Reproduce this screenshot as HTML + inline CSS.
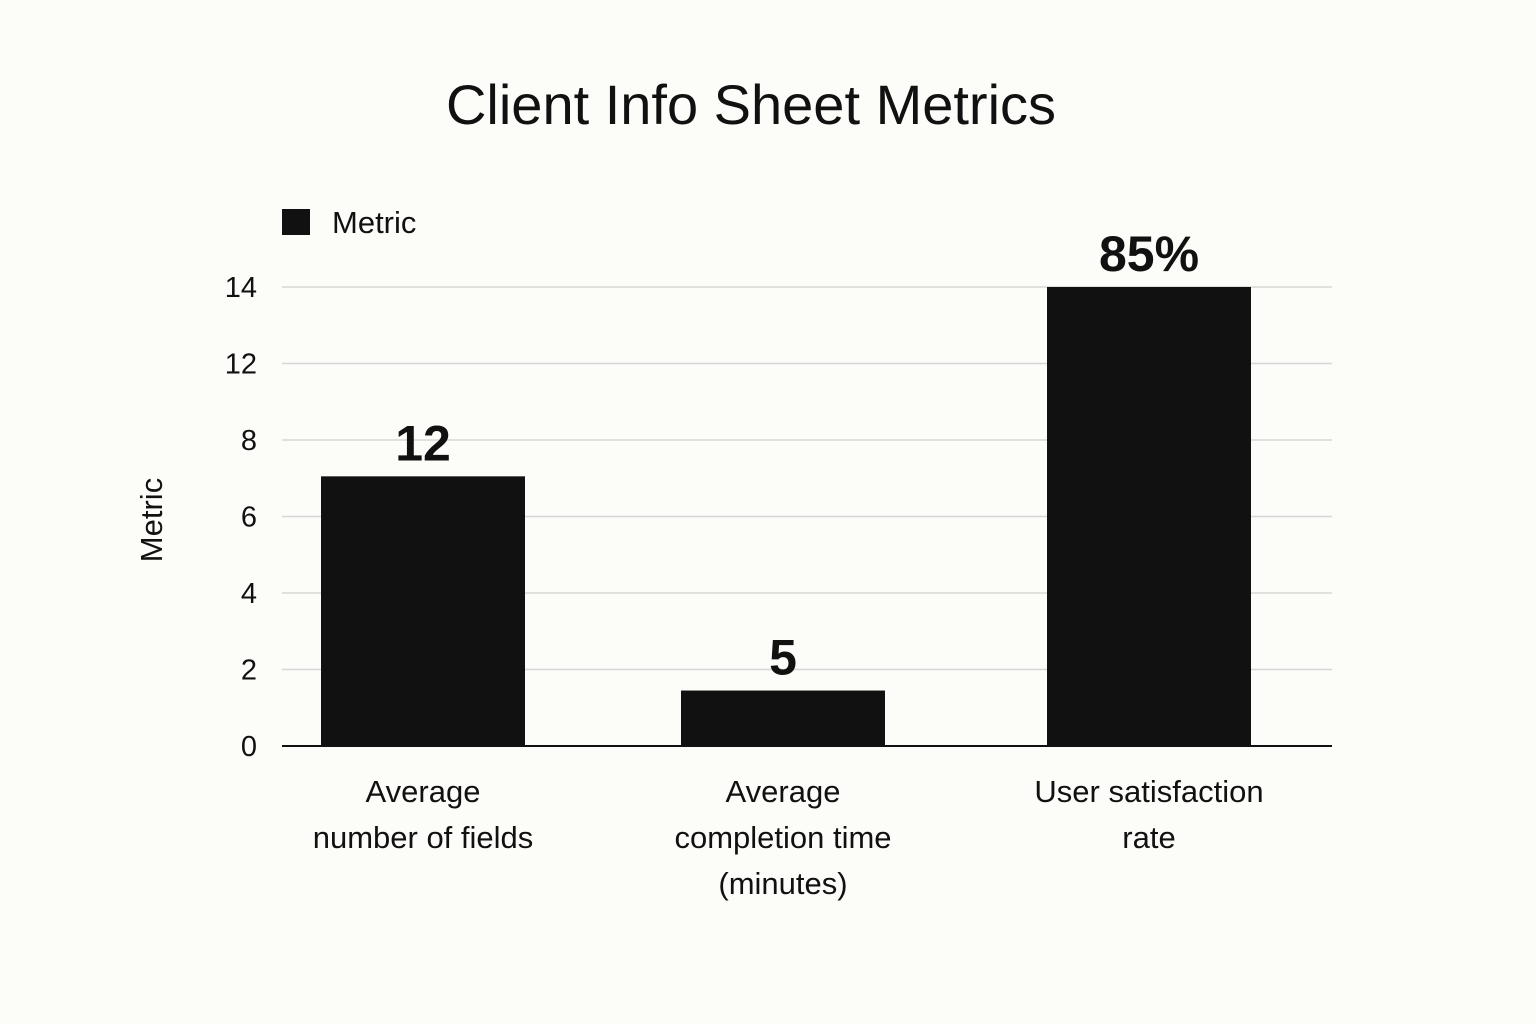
<!DOCTYPE html>
<html><head><meta charset="utf-8"><style>
html,body{margin:0;padding:0;background:#fcfcf9;}
svg{display:block;font-family:"Liberation Sans",sans-serif;}
</style></head><body>
<svg id="chart" width="1536" height="1024" viewBox="0 0 1536 1024">
<rect width="1536" height="1024" fill="#fcfcf9"/>
<text x="751" y="124" text-anchor="middle" font-size="56" font-weight="500" fill="#111">Client Info Sheet Metrics</text>
<g>
<rect x="282" y="209" width="28" height="26" fill="#111"/>
<text x="332" y="233" font-size="31" fill="#111">Metric</text>
</g>
<text transform="translate(162,520) rotate(-90)" text-anchor="middle" font-size="31" fill="#111">Metric</text>
<g id="grid"></g><g id="bars"></g><g id="xlabels"></g>
<line x1="282" x2="1332" y1="746" y2="746" stroke="#111" stroke-width="2"/>
</svg>
<script>
const categories=[["Average","number of fields"],["Average","completion time","(minutes)"],["User satisfaction","rate"]];
const values=[7.05,1.45,12];
const valueLabels=["12","5","85%"];
const tickValues=[0,2,4,6,8,10,12];
const tickLabels=["0","2","4","6","8","12","14"];
const NS="http://www.w3.org/2000/svg";
const y0=746,yTop=287,vMax=12,xL=282,xR=1332,centers=[423,783,1149],bw=204;
const yScale=v=>y0-(v/vMax)*(y0-yTop);
function mk(t,a,p){const e=document.createElementNS(NS,t);for(const k in a)e.setAttribute(k,a[k]);p.appendChild(e);return e;}
const g=document.getElementById('grid');
tickValues.forEach((v,i)=>{
 const y=yScale(v);
 if(i>0){const l=mk('line',{x1:xL,x2:xR,y1:y,y2:y,stroke:'#d6d6d6','stroke-width':1.5},g);
 
 }
 const t=mk('text',{x:257,y:y+10,'text-anchor':'end','font-size':29,fill:'#111'},g);
 t.textContent=tickLabels[i];
 
 
});
const b=document.getElementById('bars');
values.forEach((v,i)=>{
 const y=yScale(v);
 const r=mk('rect',{x:centers[i]-bw/2,y:y,width:bw,height:y0-y,fill:'#111'},b);
 
 
 const t=mk('text',{x:centers[i],y:y-16,'text-anchor':'middle','font-size':50,'font-weight':'bold',fill:'#111'},b);
 t.textContent=valueLabels[i];
 
 
});
const xl=document.getElementById('xlabels');
categories.forEach((lines,i)=>{
 lines.forEach((s,j)=>{
  const t=mk('text',{x:centers[i],y:802+j*46,'text-anchor':'middle','font-size':31,fill:'#111'},xl);
  t.textContent=s;
  
  
 });
});
</script>
</body></html>
